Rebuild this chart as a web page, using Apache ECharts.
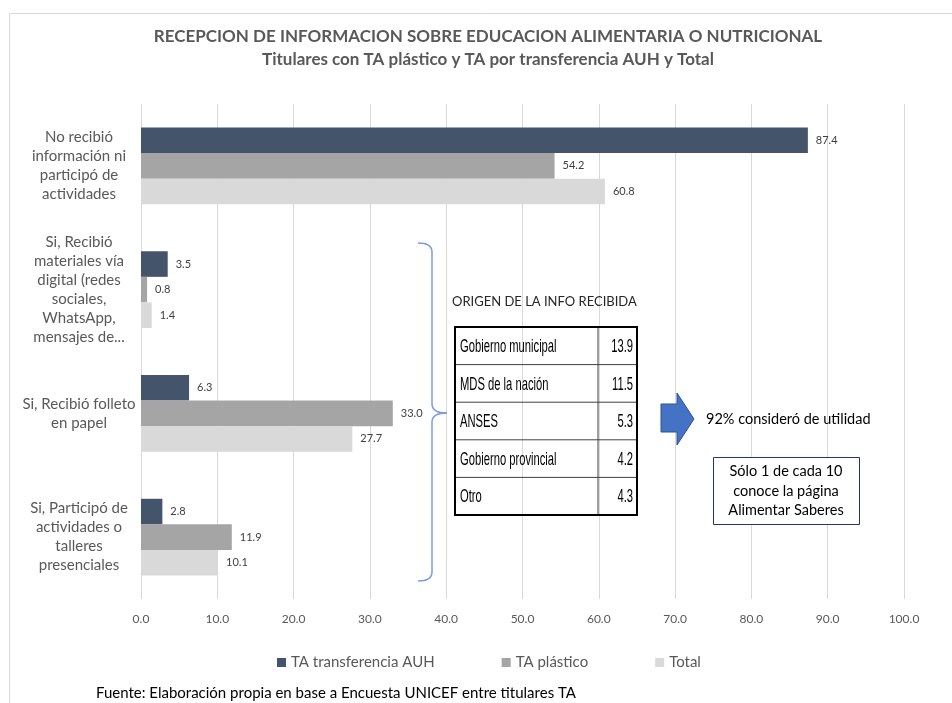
<!DOCTYPE html>
<html>
<head>
<meta charset="utf-8">
<script src="https://cdn.jsdelivr.net/npm/echarts@6/dist/echarts.min.js"></script>
<style>
  html, body { margin: 0; padding: 0; background: #ffffff; }
  #chart { width: 952px; height: 703px; }
</style>
</head>
<body>
<div id="chart"></div>
<script>
// categories, top to bottom
var categories = [
    'No recibió\ninformación ni\nparticipó de\nactividades',
    'Si, Recibió\nmateriales vía\ndigital (redes\nsociales,\nWhatsApp,\nmensajes de...',
    'Si, Recibió folleto\nen papel',
    'Si, Participó de\nactividades o\ntalleres\npresenciales'
];
var seriesNames = ['TA transferencia AUH', 'TA plástico', 'Total'];
var auhValues = [87.4, 3.5, 6.3, 2.8];
var plasticoValues = [54.2, 0.8, 33.0, 11.9];
var totalValues = [60.8, 1.4, 27.7, 10.1];

// side table
var origenLabels = ['Gobierno municipal', 'MDS de la nación', 'ANSES', 'Gobierno provincial', 'Otro'];
var origenValues = [13.9, 11.5, 5.3, 4.2, 4.3];

var titleLines = [
    'RECEPCION DE INFORMACION SOBRE EDUCACION ALIMENTARIA O NUTRICIONAL',
    'Titulares con TA plástico y TA por transferencia AUH y Total'
];
var tableTitle = 'ORIGEN DE LA INFO RECIBIDA';
var utilidadText = '92% consideró de utilidad';
var boxText = 'Sólo 1 de cada 10\nconoce la página\nAlimentar Saberes';
var sourceText = 'Fuente: Elaboración propia en base a Encuesta UNICEF entre titulares TA';

var colors = ['#44546a', '#a5a5a5', '#d9d9d9'];
var textGrey = '#595959';
var bodyFont = 'Lato, "Open Sans", sans-serif';
var cellFont = '"Liberation Sans", Arial, sans-serif';

var chart = echarts.init(document.getElementById('chart'), null, { renderer: 'canvas' });

function barSeries(name, data, color) {
    return {
        type: 'bar',
        name: name,
        data: data,
        barGap: '0%',
        barCategoryGap: '38%',
        itemStyle: { color: color },
        label: {
            show: true,
            position: 'right',
            distance: 8,
            color: '#404040',
            fontSize: 11,
            fontFamily: bodyFont,
            formatter: function (p) { return p.value.toFixed(1); }
        }
    };
}

// table cells use a horizontally squeezed font, like the condensed face of the original
function cellText(x, y, text, align) {
    return {
        type: 'group', x: x, y: y, scaleX: 0.59, scaleY: 1, z: 10,
        children: [{
            type: 'text', x: 0, y: 0, z: 10,
            style: { text: text, fill: '#000', fontSize: 19, fontFamily: cellFont, textAlign: align, textVerticalAlign: 'middle' }
        }]
    };
}

function buildTable() {
    var left = 455, right = 637, top = 327, rowH = 37.6, divX = 598;
    var els = [];
    els.push({
        type: 'text', x: left - 3, y: 302, z: 10,
        style: { text: tableTitle, fill: '#262626', fontSize: 13, fontFamily: bodyFont, textVerticalAlign: 'middle' }
    });
    origenLabels.forEach(function (label, i) {
        var cy = top + rowH * i + rowH / 2;
        if (i > 0) {
            els.push({
                type: 'line', z: 10,
                shape: { x1: left, y1: top + rowH * i, x2: right, y2: top + rowH * i },
                style: { stroke: '#404040', lineWidth: 1 }
            });
        }
        els.push(cellText(left + 5, cy + 1, label, 'left'));
        els.push(cellText(right - 4, cy + 1, origenValues[i].toFixed(1), 'right'));
    });
    els.push({
        type: 'line', z: 10,
        shape: { x1: divX, y1: top, x2: divX, y2: top + rowH * origenLabels.length },
        style: { stroke: '#404040', lineWidth: 1 }
    });
    els.push({
        type: 'rect', z: 11,
        shape: { x: left, y: top, width: right - left, height: rowH * origenLabels.length },
        style: { fill: 'none', stroke: '#000', lineWidth: 2 }
    });
    return els;
}

// right curly brace next to the "folleto" group
function buildBrace() {
    var st = { fill: 'none', stroke: '#7f9dd9', lineWidth: 1.5 };
    var x = 432, top = 243, mid = 413, bottom = 581;
    return [
        { type: 'bezierCurve', z: 10, shape: { x1: 418, y1: top, cpx1: x, cpy1: top, x2: x, y2: top + 9 }, style: st },
        { type: 'line', z: 10, shape: { x1: x, y1: top + 9, x2: x, y2: mid - 9 }, style: st },
        { type: 'bezierCurve', z: 10, shape: { x1: x, y1: mid - 9, cpx1: x, cpy1: mid, x2: 447, y2: mid }, style: st },
        { type: 'bezierCurve', z: 10, shape: { x1: 447, y1: mid, cpx1: x, cpy1: mid, x2: x, y2: mid + 9 }, style: st },
        { type: 'line', z: 10, shape: { x1: x, y1: mid + 9, x2: x, y2: bottom - 9 }, style: st },
        { type: 'bezierCurve', z: 10, shape: { x1: x, y1: bottom - 9, cpx1: x, cpy1: bottom, x2: 418, y2: bottom }, style: st }
    ];
}

var graphics = [
    {
        type: 'rect', z: 0,
        shape: { x: 9.5, y: 13.5, width: 1000, height: 800 },
        style: { fill: 'none', stroke: '#d9d9d9', lineWidth: 1 }
    },
    {
        type: 'text', x: 488, y: 37,
        style: { text: titleLines[0], fill: textGrey, fontSize: 17, fontWeight: 'bold', fontFamily: bodyFont, textAlign: 'center', textVerticalAlign: 'middle' }
    },
    {
        type: 'text', x: 488, y: 60,
        style: { text: titleLines[1], fill: textGrey, fontSize: 17, fontWeight: 'bold', fontFamily: bodyFont, textAlign: 'center', textVerticalAlign: 'middle' }
    },
    {
        type: 'polygon', z: 10,
        shape: { points: [[661, 404], [677, 404], [677, 393], [694, 419], [677, 445], [677, 432], [661, 432]] },
        style: { fill: '#4472c4', stroke: '#2f528f', lineWidth: 1 }
    },
    {
        type: 'text', x: 706, y: 419, z: 10,
        style: { text: utilidadText, fill: '#000', fontSize: 14.5, fontFamily: bodyFont, textVerticalAlign: 'middle' }
    },
    {
        type: 'rect', z: 10,
        shape: { x: 713.5, y: 457.5, width: 146, height: 67 },
        style: { fill: '#fff', stroke: '#203864', lineWidth: 1 }
    },
    {
        type: 'text', x: 786, y: 491, z: 11,
        style: { text: boxText, fill: '#000', fontSize: 14.5, lineHeight: 19.5, fontFamily: bodyFont, textAlign: 'center', textVerticalAlign: 'middle' }
    },
    {
        type: 'text', x: 96, y: 693,
        style: { text: sourceText, fill: '#000', fontSize: 15, fontFamily: bodyFont, textVerticalAlign: 'middle' }
    }
].concat(buildBrace(), buildTable());

chart.setOption({
    animation: false,
    backgroundColor: '#ffffff',
    grid: { left: 141, right: 48, top: 104, bottom: 104, containLabel: false },
    legend: {
        left: 272,
        top: 650,
        icon: 'rect',
        itemWidth: 9,
        itemHeight: 9,
        itemGap: 67,
        textStyle: { color: textGrey, fontSize: 15, fontFamily: bodyFont },
        data: seriesNames
    },
    xAxis: {
        type: 'value',
        min: 0,
        max: 100,
        interval: 10,
        axisLine: { show: false },
        axisTick: { show: false },
        axisLabel: {
            color: textGrey,
            fontSize: 12,
            fontFamily: bodyFont,
            margin: 14,
            formatter: function (v) { return v.toFixed(1); }
        },
        splitLine: { show: true, lineStyle: { color: '#d9d9d9', width: 1 } }
    },
    yAxis: {
        type: 'category',
        inverse: true,
        data: categories,
        axisLine: { show: false },
        axisTick: { show: false },
        axisLabel: {
            color: textGrey,
            fontSize: 15,
            lineHeight: 19,
            fontFamily: bodyFont,
            align: 'center',
            margin: 62
        }
    },
    series: [
        barSeries(seriesNames[0], auhValues, colors[0]),
        barSeries(seriesNames[1], plasticoValues, colors[1]),
        barSeries(seriesNames[2], totalValues, colors[2])
    ],
    graphic: graphics
});
</script>
</body>
</html>
